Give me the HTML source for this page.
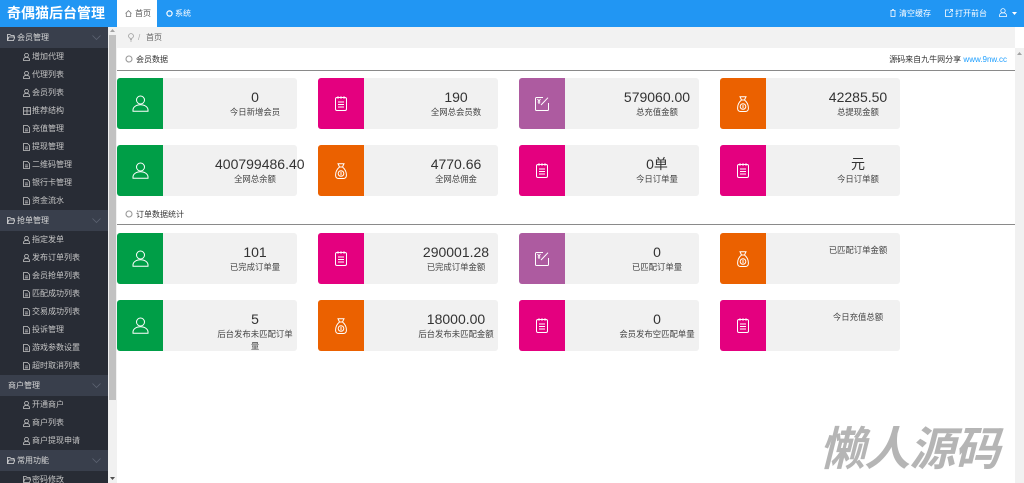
<!DOCTYPE html>
<html><head><meta charset="utf-8">
<style>
*{margin:0;padding:0;box-sizing:border-box}
body{width:1024px;height:483px;overflow:hidden;position:relative;background:#fff;font-family:"Liberation Sans","Noto Sans CJK SC",sans-serif;color:#333}
.a{position:absolute}
#logo{left:0;top:0;width:117px;height:27px;background:#2196f3;color:#fff;font-size:14px;font-weight:bold;line-height:27px;padding-left:7px;white-space:nowrap;font-family:"Liberation Sans","Noto Sans CJK SC",sans-serif}
#top{left:117px;top:0;width:907px;height:27px;background:#2196f3}
.tab1{left:117px;top:0;width:40px;height:27px;background:#fff;font-size:8px;line-height:27px;color:#555}
.tt{font-size:8px;line-height:27px;color:#fff;white-space:nowrap}
#side{left:0;top:27px;width:108px;height:456px;background:#282c35;overflow:hidden}
.gh{height:21px;background:#393f4c;color:#d8d8d8;font-size:8px;line-height:21px;position:relative;padding-left:17px;white-space:nowrap}
.gh.noi{padding-left:8px}
.gh svg.f{position:absolute;left:7px;top:7px}
.gh svg.c{position:absolute;left:92px;top:8px}
.it{height:18px;color:#c6c6c6;font-size:8px;line-height:18px;position:relative;padding-left:32px;white-space:nowrap}
.it svg{position:absolute;left:23px;top:5px}
#sb{left:108px;top:27px;width:9px;height:456px;background:#f1f1f1}
#sbt{left:109px;top:35px;width:7px;height:365px;background:#c1c1c1}
#rsb{left:1015px;top:48px;width:9px;height:435px;background:#f1f1f1}
#bc{left:117px;top:27px;width:898px;height:21px;background:#f2f2f2;font-size:8px;line-height:21px;color:#666}
.sh{font-size:8px;color:#333;white-space:nowrap}
.line{left:117px;width:898px;height:1px;background:#8a8a8a}
.card{position:absolute;width:180px;height:51px;background:#f1f1f1;border-radius:3px;overflow:visible}
.ic{position:absolute;left:0;top:0;width:46px;height:51px;border-radius:3px 0 0 3px;display:flex;align-items:center;justify-content:center}
.tx{position:absolute;left:98px;top:0;width:80px;padding-top:11px;text-align:center}
.num{font-size:14px;line-height:17px;color:#333;white-space:nowrap}
.lab{font-size:8.4px;line-height:12px;color:#444}
.g{background:#009e47}.m{background:#e4007f}.p{background:#ad5ba0}.o{background:#eb6100}
#wm{left:824px;top:417px;font-size:46px;font-weight:bold;color:#b5b5b5;transform:skewX(-14deg);white-space:nowrap;letter-spacing:-1px;font-family:"Noto Sans CJK SC","WenQuanYi Zen Hei",sans-serif;line-height:58px}
</style></head><body>

<div id="logo" class="a">奇偶猫后台管理</div>
<div id="top" class="a"></div>
<div class="a tab1"><svg class="a" style="left:8px;top:10px" width="7" height="7" viewBox="0 0 7 7" fill="none" stroke="#777" stroke-width="0.8"><path d="M0.5 3.5L3.5 0.7L6.5 3.5M1.3 3v3.5h4.4V3"/></svg><span class="a" style="left:18px;top:0">首页</span></div>
<svg class="a" style="left:166px;top:10px" width="7" height="7" viewBox="0 0 7 7" fill="none" stroke="#fff" stroke-width="1.2"><circle cx="3.5" cy="3.5" r="2.6"/></svg>
<span class="a tt" style="left:175px;top:0">系统</span>
<svg class="a" style="left:890px;top:9px" width="6" height="8" viewBox="0 0 6 8" fill="none" stroke="#fff" stroke-width="0.8"><path d="M0.5 1.5h5M1 1.5v6h4v-6M2 0.5h2"/></svg>
<span class="a tt" style="left:899px;top:0">清空缓存</span>
<svg class="a" style="left:945px;top:9px" width="8" height="8" viewBox="0 0 8 8" fill="none" stroke="#fff" stroke-width="0.8"><path d="M4 1H0.5v6.5H7V4M4 4L7.5 0.5M5 0.5h2.5V3"/></svg>
<span class="a tt" style="left:955px;top:0">打开前台</span>
<svg class="a" style="left:999px;top:8px" width="8" height="9" viewBox="0 0 8 9" fill="none" stroke="#fff" stroke-width="0.8"><circle cx="4" cy="2.8" r="2.2"/><path d="M0.5 8.5v-1c0-1.8 1.6-2.8 3.5-2.8s3.5 1 3.5 2.8v1z"/></svg>
<svg class="a" style="left:1012px;top:12px" width="5" height="3" viewBox="0 0 5 3"><path d="M0 0h5L2.5 3z" fill="#fff"/></svg>

<div id="side" class="a">
<div class="gh"><svg class="f" width="8" height="7" viewBox="0 0 8 7" fill="none" stroke="#ddd" stroke-width="0.8"><path d="M0.5 6.5V0.5h2.5l1 1h3v1.5M0.5 6.5l1.3-3.5h6l-1.3 3.5z"/></svg>会员管理<svg class="c" width="9" height="5" viewBox="0 0 9 5" fill="none" stroke="#5d6473" stroke-width="0.8"><path d="M0.5 0.5l4 4 4-4"/></svg></div>
<div class="it"><svg width="7" height="8" viewBox="0 0 7 8" fill="none" stroke="#c6c6c6" stroke-width="0.8"><circle cx="3.5" cy="2.3" r="1.9"/><path d="M0.5 7.5v-0.8c0-1.5 1.3-2.4 3-2.4s3 0.9 3 2.4v0.8z"/></svg>增加代理</div>
<div class="it"><svg width="7" height="8" viewBox="0 0 7 8" fill="none" stroke="#c6c6c6" stroke-width="0.8"><circle cx="3.5" cy="2.3" r="1.9"/><path d="M0.5 7.5v-0.8c0-1.5 1.3-2.4 3-2.4s3 0.9 3 2.4v0.8z"/></svg>代理列表</div>
<div class="it"><svg width="7" height="8" viewBox="0 0 7 8" fill="none" stroke="#c6c6c6" stroke-width="0.8"><circle cx="3.5" cy="2.3" r="1.9"/><path d="M0.5 7.5v-0.8c0-1.5 1.3-2.4 3-2.4s3 0.9 3 2.4v0.8z"/></svg>会员列表</div>
<div class="it"><svg width="8" height="8" viewBox="0 0 8 8" fill="none" stroke="#c6c6c6" stroke-width="0.8"><rect x="0.5" y="0.5" width="7" height="7"/><path d="M4 0.5v7M0.5 4h7"/></svg>推荐结构</div>
<div class="it"><svg width="7" height="8" viewBox="0 0 7 8" fill="none" stroke="#c6c6c6" stroke-width="0.8"><path d="M0.5 0.5h4l2 2v5h-6z M2 4h3M2 5.8h3"/></svg>充值管理</div>
<div class="it"><svg width="7" height="8" viewBox="0 0 7 8" fill="none" stroke="#c6c6c6" stroke-width="0.8"><path d="M0.5 0.5h4l2 2v5h-6z M2 4h3M2 5.8h3"/></svg>提现管理</div>
<div class="it"><svg width="7" height="8" viewBox="0 0 7 8" fill="none" stroke="#c6c6c6" stroke-width="0.8"><path d="M0.5 0.5h4l2 2v5h-6z M2 4h3M2 5.8h3"/></svg>二维码管理</div>
<div class="it"><svg width="7" height="8" viewBox="0 0 7 8" fill="none" stroke="#c6c6c6" stroke-width="0.8"><path d="M0.5 0.5h4l2 2v5h-6z M2 4h3M2 5.8h3"/></svg>银行卡管理</div>
<div class="it"><svg width="7" height="8" viewBox="0 0 7 8" fill="none" stroke="#c6c6c6" stroke-width="0.8"><path d="M0.5 0.5h4l2 2v5h-6z M2 4h3M2 5.8h3"/></svg>资金流水</div>
<div class="gh"><svg class="f" width="8" height="7" viewBox="0 0 8 7" fill="none" stroke="#ddd" stroke-width="0.8"><path d="M0.5 6.5V0.5h2.5l1 1h3v1.5M0.5 6.5l1.3-3.5h6l-1.3 3.5z"/></svg>抢单管理<svg class="c" width="9" height="5" viewBox="0 0 9 5" fill="none" stroke="#5d6473" stroke-width="0.8"><path d="M0.5 0.5l4 4 4-4"/></svg></div>
<div class="it"><svg width="7" height="8" viewBox="0 0 7 8" fill="none" stroke="#c6c6c6" stroke-width="0.8"><circle cx="3.5" cy="2.3" r="1.9"/><path d="M0.5 7.5v-0.8c0-1.5 1.3-2.4 3-2.4s3 0.9 3 2.4v0.8z"/></svg>指定发单</div>
<div class="it"><svg width="7" height="8" viewBox="0 0 7 8" fill="none" stroke="#c6c6c6" stroke-width="0.8"><circle cx="3.5" cy="2.3" r="1.9"/><path d="M0.5 7.5v-0.8c0-1.5 1.3-2.4 3-2.4s3 0.9 3 2.4v0.8z"/></svg>发布订单列表</div>
<div class="it"><svg width="7" height="8" viewBox="0 0 7 8" fill="none" stroke="#c6c6c6" stroke-width="0.8"><path d="M0.5 0.5h4l2 2v5h-6z M2 4h3M2 5.8h3"/></svg>会员抢单列表</div>
<div class="it"><svg width="7" height="8" viewBox="0 0 7 8" fill="none" stroke="#c6c6c6" stroke-width="0.8"><path d="M0.5 0.5h4l2 2v5h-6z M2 4h3M2 5.8h3"/></svg>匹配成功列表</div>
<div class="it"><svg width="7" height="8" viewBox="0 0 7 8" fill="none" stroke="#c6c6c6" stroke-width="0.8"><path d="M0.5 0.5h4l2 2v5h-6z M2 4h3M2 5.8h3"/></svg>交易成功列表</div>
<div class="it"><svg width="7" height="8" viewBox="0 0 7 8" fill="none" stroke="#c6c6c6" stroke-width="0.8"><path d="M0.5 0.5h4l2 2v5h-6z M2 4h3M2 5.8h3"/></svg>投诉管理</div>
<div class="it"><svg width="7" height="8" viewBox="0 0 7 8" fill="none" stroke="#c6c6c6" stroke-width="0.8"><path d="M0.5 0.5h4l2 2v5h-6z M2 4h3M2 5.8h3"/></svg>游戏参数设置</div>
<div class="it"><svg width="7" height="8" viewBox="0 0 7 8" fill="none" stroke="#c6c6c6" stroke-width="0.8"><path d="M0.5 0.5h4l2 2v5h-6z M2 4h3M2 5.8h3"/></svg>超时取消列表</div>
<div class="gh noi">商户管理<svg class="c" width="9" height="5" viewBox="0 0 9 5" fill="none" stroke="#5d6473" stroke-width="0.8"><path d="M0.5 0.5l4 4 4-4"/></svg></div>
<div class="it"><svg width="7" height="8" viewBox="0 0 7 8" fill="none" stroke="#c6c6c6" stroke-width="0.8"><circle cx="3.5" cy="2.3" r="1.9"/><path d="M0.5 7.5v-0.8c0-1.5 1.3-2.4 3-2.4s3 0.9 3 2.4v0.8z"/></svg>开通商户</div>
<div class="it"><svg width="7" height="8" viewBox="0 0 7 8" fill="none" stroke="#c6c6c6" stroke-width="0.8"><circle cx="3.5" cy="2.3" r="1.9"/><path d="M0.5 7.5v-0.8c0-1.5 1.3-2.4 3-2.4s3 0.9 3 2.4v0.8z"/></svg>商户列表</div>
<div class="it"><svg width="7" height="8" viewBox="0 0 7 8" fill="none" stroke="#c6c6c6" stroke-width="0.8"><circle cx="3.5" cy="2.3" r="1.9"/><path d="M0.5 7.5v-0.8c0-1.5 1.3-2.4 3-2.4s3 0.9 3 2.4v0.8z"/></svg>商户提现申请</div>
<div class="gh"><svg class="f" width="8" height="7" viewBox="0 0 8 7" fill="none" stroke="#ddd" stroke-width="0.8"><path d="M0.5 6.5V0.5h2.5l1 1h3v1.5M0.5 6.5l1.3-3.5h6l-1.3 3.5z"/></svg>常用功能<svg class="c" width="9" height="5" viewBox="0 0 9 5" fill="none" stroke="#5d6473" stroke-width="0.8"><path d="M0.5 0.5l4 4 4-4"/></svg></div>
<div class="it"><svg width="8" height="7" viewBox="0 0 8 7" fill="none" stroke="#c6c6c6" stroke-width="0.8"><path d="M0.5 6.5V0.5h2.5l1 1h3v1.5M0.5 6.5l1.3-3.5h6l-1.3 3.5z"/></svg>密码修改</div>
</div>
<div id="sb" class="a"></div>
<div id="sbt" class="a"></div>
<svg class="a" style="left:110px;top:29px" width="5" height="3" viewBox="0 0 5 3"><path d="M0 3h5L2.5 0z" fill="#a3a3a3"/></svg>
<svg class="a" style="left:110px;top:477px" width="5" height="3" viewBox="0 0 5 3"><path d="M0 0h5L2.5 3z" fill="#505050"/></svg>
<div id="rsb" class="a"></div>
<svg class="a" style="left:1017px;top:52px" width="5" height="3" viewBox="0 0 5 3"><path d="M0 3h5L2.5 0z" fill="#a3a3a3"/></svg>

<div id="bc" class="a"><svg class="a" style="left:11px;top:6px" width="6" height="9" viewBox="0 0 6 9" fill="none" stroke="#999" stroke-width="0.8"><circle cx="3" cy="3" r="2.4"/><path d="M2 6.5h2M2.2 8h1.6"/></svg><span class="a" style="left:21px;top:0;color:#aaa">/</span><span class="a" style="left:29px;top:0">首页</span></div>

<svg class="a" style="left:125px;top:55px" width="8" height="8" viewBox="0 0 8 8" fill="none" stroke="#999" stroke-width="1.1"><circle cx="4" cy="4" r="3"/></svg>
<span class="a sh" style="left:136px;top:54px">会员数据</span>
<span class="a sh" style="right:17px;top:54px">源码来自九牛网分享 <span style="color:#1e9fff">www.9nw.cc</span></span>
<div class="a line" style="top:70px"></div>

<svg class="a" style="left:125px;top:210px" width="8" height="8" viewBox="0 0 8 8" fill="none" stroke="#999" stroke-width="1.1"><circle cx="4" cy="4" r="3"/></svg>
<span class="a sh" style="left:136px;top:209px">订单数据统计</span>
<div class="a line" style="top:224px"></div>

<!-- Row 1 -->
<div class="card" style="left:117px;top:78px"><div class="ic g"><svg width="17" height="17" viewBox="0 0 17 17" fill="none" stroke="#fff" stroke-width="1"><circle cx="8.5" cy="5" r="4"/><path d="M1 16.3v-1.3c0-3 3.3-5.2 7.5-5.2s7.5 2.2 7.5 5.2v1.3z"/></svg></div><div class="tx"><div class="num">0</div><div class="lab">今日新增会员</div></div></div>
<div class="card" style="left:318px;top:78px"><div class="ic m"><svg width="12" height="15" viewBox="0 0 12 15" fill="none" stroke="#fff" stroke-width="1"><rect x="0.5" y="1.5" width="11" height="13" rx="1.5"/><path d="M3 0.3v2.4M6 0.3v2.4M9 0.3v2.4M3 6h6M3 8.5h6M3 11h6"/></svg></div><div class="tx"><div class="num">190</div><div class="lab">全网总会员数</div></div></div>
<div class="card" style="left:519px;top:78px"><div class="ic p"><svg width="14" height="14" viewBox="0 0 14 14" fill="none" stroke="#fff" stroke-width="1"><path d="M8 0.5H1.5a1 1 0 0 0-1 1v11a1 1 0 0 0 1 1h11a1 1 0 0 0 1-1V6M6 8l7-7.3"/><path d="M2.5 2l1.5 2 1.5-2M4 4v3M2.7 5h2.6"/></svg></div><div class="tx"><div class="num">579060.00</div><div class="lab">总充值金额</div></div></div>
<div class="card" style="left:720px;top:78px"><div class="ic o"><svg width="12" height="16" viewBox="0 0 12 16" fill="none" stroke="#fff" stroke-width="1"><path d="M3 0.7h6L7.5 4h-3z"/><path d="M4.5 4C1.5 6.5 0.5 10 0.6 12.5c0.1 2 1.4 3 3 3h4.8c1.6 0 2.9-1 3-3 0.1-2.5-0.9-6-3.9-8.5"/><circle cx="6" cy="10.5" r="2.8"/><path d="M6 8.7v3.6"/></svg></div><div class="tx"><div class="num">42285.50</div><div class="lab">总提现金额</div></div></div>

<!-- Row 2 -->
<div class="card" style="left:117px;top:145px"><div class="ic g"><svg width="17" height="17" viewBox="0 0 17 17" fill="none" stroke="#fff" stroke-width="1"><circle cx="8.5" cy="5" r="4"/><path d="M1 16.3v-1.3c0-3 3.3-5.2 7.5-5.2s7.5 2.2 7.5 5.2v1.3z"/></svg></div><div class="tx"><div class="num">400799486.40</div><div class="lab">全网总余额</div></div></div>
<div class="card" style="left:318px;top:145px"><div class="ic o"><svg width="12" height="16" viewBox="0 0 12 16" fill="none" stroke="#fff" stroke-width="1"><path d="M3 0.7h6L7.5 4h-3z"/><path d="M4.5 4C1.5 6.5 0.5 10 0.6 12.5c0.1 2 1.4 3 3 3h4.8c1.6 0 2.9-1 3-3 0.1-2.5-0.9-6-3.9-8.5"/><circle cx="6" cy="10.5" r="2.8"/><path d="M6 8.7v3.6"/></svg></div><div class="tx"><div class="num">4770.66</div><div class="lab">全网总佣金</div></div></div>
<div class="card" style="left:519px;top:145px"><div class="ic m"><svg width="12" height="15" viewBox="0 0 12 15" fill="none" stroke="#fff" stroke-width="1"><rect x="0.5" y="1.5" width="11" height="13" rx="1.5"/><path d="M3 0.3v2.4M6 0.3v2.4M9 0.3v2.4M3 6h6M3 8.5h6M3 11h6"/></svg></div><div class="tx"><div class="num">0单</div><div class="lab">今日订单量</div></div></div>
<div class="card" style="left:720px;top:145px"><div class="ic m"><svg width="12" height="15" viewBox="0 0 12 15" fill="none" stroke="#fff" stroke-width="1"><rect x="0.5" y="1.5" width="11" height="13" rx="1.5"/><path d="M3 0.3v2.4M6 0.3v2.4M9 0.3v2.4M3 6h6M3 8.5h6M3 11h6"/></svg></div><div class="tx"><div class="num">元</div><div class="lab">今日订单额</div></div></div>

<!-- Row 3 -->
<div class="card" style="left:117px;top:233px"><div class="ic g"><svg width="17" height="17" viewBox="0 0 17 17" fill="none" stroke="#fff" stroke-width="1"><circle cx="8.5" cy="5" r="4"/><path d="M1 16.3v-1.3c0-3 3.3-5.2 7.5-5.2s7.5 2.2 7.5 5.2v1.3z"/></svg></div><div class="tx"><div class="num">101</div><div class="lab">已完成订单量</div></div></div>
<div class="card" style="left:318px;top:233px"><div class="ic m"><svg width="12" height="15" viewBox="0 0 12 15" fill="none" stroke="#fff" stroke-width="1"><rect x="0.5" y="1.5" width="11" height="13" rx="1.5"/><path d="M3 0.3v2.4M6 0.3v2.4M9 0.3v2.4M3 6h6M3 8.5h6M3 11h6"/></svg></div><div class="tx"><div class="num">290001.28</div><div class="lab">已完成订单金额</div></div></div>
<div class="card" style="left:519px;top:233px"><div class="ic p"><svg width="14" height="14" viewBox="0 0 14 14" fill="none" stroke="#fff" stroke-width="1"><path d="M8 0.5H1.5a1 1 0 0 0-1 1v11a1 1 0 0 0 1 1h11a1 1 0 0 0 1-1V6M6 8l7-7.3"/><path d="M2.5 2l1.5 2 1.5-2M4 4v3M2.7 5h2.6"/></svg></div><div class="tx"><div class="num">0</div><div class="lab">已匹配订单量</div></div></div>
<div class="card" style="left:720px;top:233px"><div class="ic o"><svg width="12" height="16" viewBox="0 0 12 16" fill="none" stroke="#fff" stroke-width="1"><path d="M3 0.7h6L7.5 4h-3z"/><path d="M4.5 4C1.5 6.5 0.5 10 0.6 12.5c0.1 2 1.4 3 3 3h4.8c1.6 0 2.9-1 3-3 0.1-2.5-0.9-6-3.9-8.5"/><circle cx="6" cy="10.5" r="2.8"/><path d="M6 8.7v3.6"/></svg></div><div class="tx"><div class="lab">已匹配订单金额</div></div></div>

<!-- Row 4 -->
<div class="card" style="left:117px;top:300px"><div class="ic g"><svg width="17" height="17" viewBox="0 0 17 17" fill="none" stroke="#fff" stroke-width="1"><circle cx="8.5" cy="5" r="4"/><path d="M1 16.3v-1.3c0-3 3.3-5.2 7.5-5.2s7.5 2.2 7.5 5.2v1.3z"/></svg></div><div class="tx"><div class="num">5</div><div class="lab">后台发布未匹配订单量</div></div></div>
<div class="card" style="left:318px;top:300px"><div class="ic o"><svg width="12" height="16" viewBox="0 0 12 16" fill="none" stroke="#fff" stroke-width="1"><path d="M3 0.7h6L7.5 4h-3z"/><path d="M4.5 4C1.5 6.5 0.5 10 0.6 12.5c0.1 2 1.4 3 3 3h4.8c1.6 0 2.9-1 3-3 0.1-2.5-0.9-6-3.9-8.5"/><circle cx="6" cy="10.5" r="2.8"/><path d="M6 8.7v3.6"/></svg></div><div class="tx"><div class="num">18000.00</div><div class="lab">后台发布未匹配金额</div></div></div>
<div class="card" style="left:519px;top:300px"><div class="ic m"><svg width="12" height="15" viewBox="0 0 12 15" fill="none" stroke="#fff" stroke-width="1"><rect x="0.5" y="1.5" width="11" height="13" rx="1.5"/><path d="M3 0.3v2.4M6 0.3v2.4M9 0.3v2.4M3 6h6M3 8.5h6M3 11h6"/></svg></div><div class="tx"><div class="num">0</div><div class="lab">会员发布空匹配单量</div></div></div>
<div class="card" style="left:720px;top:300px"><div class="ic m"><svg width="12" height="15" viewBox="0 0 12 15" fill="none" stroke="#fff" stroke-width="1"><rect x="0.5" y="1.5" width="11" height="13" rx="1.5"/><path d="M3 0.3v2.4M6 0.3v2.4M9 0.3v2.4M3 6h6M3 8.5h6M3 11h6"/></svg></div><div class="tx"><div class="lab">今日充值总额</div></div></div>

<div id="wm" class="a">懒人源码</div>
</body></html>
